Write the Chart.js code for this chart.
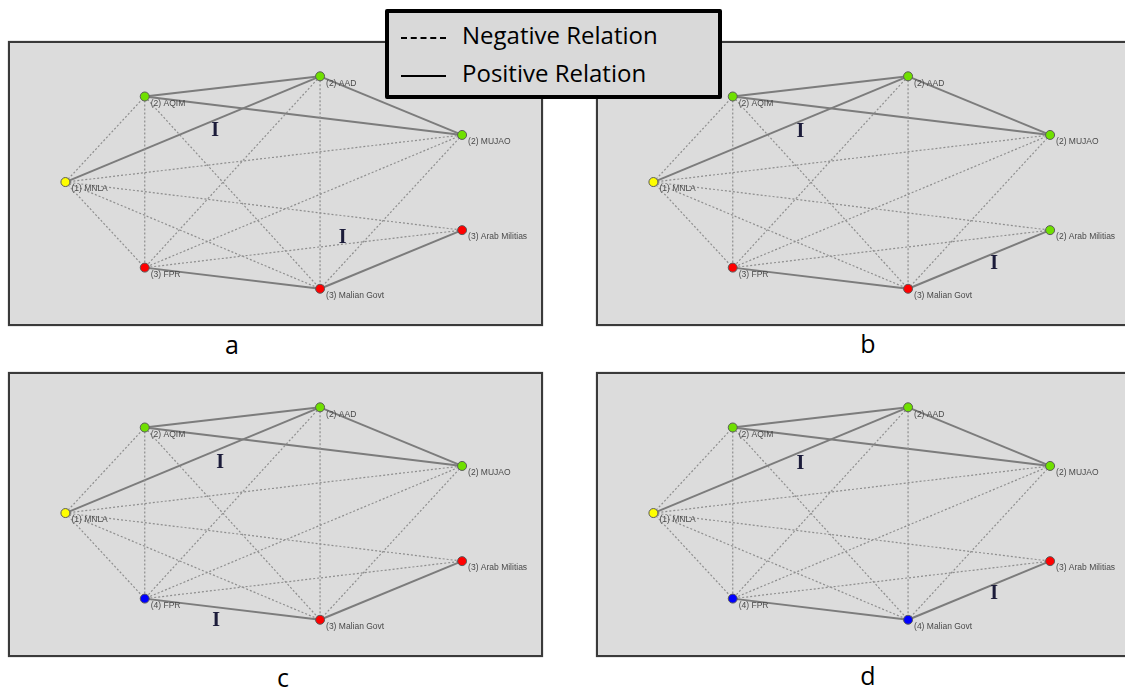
<!DOCTYPE html>
<html>
<head>
<meta charset="utf-8">
<script src="https://cdn.jsdelivr.net/npm/chart.js@4"></script>
<style>
  html, body { margin: 0; padding: 0; background: #fff; }
  body { width: 1125px; height: 688px; position: relative; overflow: hidden; font-family: "Open Sans", Lato, sans-serif; }
  .panel { position: absolute; width: 535px; height: 285px; box-sizing: border-box;
           background: #dcdcdc; border: 2px solid #3a3a3a; box-shadow: 0 0 1px #777; }
  .panel canvas { position: absolute; left: -2px; top: -2px; }
  .tag { position: absolute; font-size: 25px; color: #000; transform: translate(-50%, -50%); }
  #legend { position: absolute; left: 385px; top: 9px; width: 337px; height: 90px; box-sizing: border-box;
            background: #d9d9d9; border: 4px solid #000; border-radius: 2px; font-size: 24px; color: #000; }
  #legend .row { position: absolute; left: 12px; height: 30px; line-height: 30px; white-space: nowrap; }
  #legend .sample { display: inline-block; width: 45px; vertical-align: middle; margin-right: 16px; }
</style>
</head>
<body>
<div class="panel" id="pa" style="left:8px; top:41px;"><canvas id="ca" width="535" height="285"></canvas></div>
<div class="panel" id="pb" style="left:596px; top:41px;"><canvas id="cb" width="535" height="285"></canvas></div>
<div class="panel" id="pc" style="left:8px; top:372px;"><canvas id="cc" width="535" height="285"></canvas></div>
<div class="panel" id="pd" style="left:596px; top:372px;"><canvas id="cd" width="535" height="285"></canvas></div>

<div class="tag" style="left:232px; top:344px;">a</div>
<div class="tag" style="left:868px; top:343px;">b</div>
<div class="tag" style="left:283px; top:677px;">c</div>
<div class="tag" style="left:868px; top:675px;">d</div>

<div id="legend">
  <div class="row" style="top:7px;"><span class="sample" style="border-top:2px dashed #000;"></span>Negative Relation</div>
  <div class="row" style="top:45px;"><span class="sample" style="border-top:2px solid #000;"></span>Positive Relation</div>
</div>

<script>
// Aktørene i nettverket og plasseringen deres i hvert panel
const nodeNames = ['MNLA', 'AQIM', 'AAD', 'MUJAO', 'Arab Militias', 'FPR', 'Malian Govt'];
const nodeX = [53, 134, 313, 458, 458, 134, 313];
const nodeY = [141, 52, 31, 92, 191, 230, 252];

// Relasjoner (indekser i nodeNames)
const positiveEdges = [[1, 2], [0, 2], [1, 3], [2, 3], [5, 6], [6, 4]];
const negativeEdges = [[0, 1], [0, 3], [0, 4], [0, 5], [0, 6], [1, 5], [1, 6], [2, 5], [2, 6], [3, 5], [3, 6], [4, 5]];

// Gruppe for hver aktør i panel a, b, c og d
const groupsA = [1, 2, 2, 2, 3, 3, 3];
const groupsB = [1, 2, 2, 2, 2, 3, 3];
const groupsC = [1, 2, 2, 2, 3, 4, 3];
const groupsD = [1, 2, 2, 2, 3, 4, 4];

// "I"-markeringer i hvert panel
const markerXA = [206, 336], markerYA = [88, 199];
const markerXB = [203, 401], markerYB = [89, 226];
const markerXC = [211, 207], markerYC = [89, 253];
const markerXD = [203, 401], markerYD = [90, 225];

const groupColors = { 1: '#ffff00', 2: '#6fe000', 3: '#ff0000', 4: '#0000ff' };

// Tegner navnelapper og I-markeringer
const labelPlugin = {
    id: 'nodeLabels',
    afterDatasetsDraw(chart, args, opts) {
        const ctx = chart.ctx;
        const xs = chart.scales.x, ys = chart.scales.y;
        ctx.save();
        ctx.font = '8.5px "Liberation Sans", sans-serif';
        ctx.fillStyle = '#4a4a4a';
        ctx.textBaseline = 'middle';
        for (let i = 0; i < nodeNames.length; i++) {
            const px = xs.getPixelForValue(nodeX[i]);
            const py = ys.getPixelForValue(nodeY[i]);
            ctx.fillText('(' + opts.groups[i] + ') ' + nodeNames[i], px + 6, py + 7);
        }
        ctx.font = 'bold 20px "Liberation Serif", serif';
        ctx.fillStyle = '#1c1c3a';
        ctx.textAlign = 'center';
        for (let j = 0; j < opts.markerX.length; j++) {
            ctx.fillText('I', xs.getPixelForValue(opts.markerX[j]), ys.getPixelForValue(opts.markerY[j]));
        }
        ctx.restore();
    }
};

function edgeSet(edge, positive) {
    return {
        type: 'scatter',
        data: [{ x: nodeX[edge[0]], y: nodeY[edge[0]] }, { x: nodeX[edge[1]], y: nodeY[edge[1]] }],
        showLine: true,
        pointRadius: 0,
        borderColor: positive ? '#7c7c7c' : '#8e8e8e',
        borderWidth: positive ? 2 : 1.2,
        borderDash: positive ? [] : [2, 2],
        order: 2
    };
}

function makePanel(id, groups, markerX, markerY) {
    const datasets = [];
    negativeEdges.forEach(e => datasets.push(edgeSet(e, false)));
    positiveEdges.forEach(e => datasets.push(edgeSet(e, true)));
    datasets.push({
        type: 'scatter',
        data: nodeX.map((x, i) => ({ x: x, y: nodeY[i] })),
        pointRadius: 4.5,
        pointBackgroundColor: groups.map(g => groupColors[g]),
        pointBorderColor: '#5a5a5a',
        pointBorderWidth: 1,
        order: 0
    });
    return new Chart(document.getElementById(id), {
        type: 'scatter',
        data: { datasets: datasets },
        options: {
            responsive: false,
            animation: false,
            layout: { padding: 0 },
            scales: {
                x: { type: 'linear', min: 0, max: 535, display: false },
                y: { type: 'linear', min: 0, max: 285, reverse: true, display: false }
            },
            plugins: {
                legend: { display: false },
                tooltip: { enabled: false },
                nodeLabels: { groups: groups, markerX: markerX, markerY: markerY }
            }
        },
        plugins: [labelPlugin]
    });
}

makePanel('ca', groupsA, markerXA, markerYA);
makePanel('cb', groupsB, markerXB, markerYB);
makePanel('cc', groupsC, markerXC, markerYC);
makePanel('cd', groupsD, markerXD, markerYD);
</script>
</body>
</html>
